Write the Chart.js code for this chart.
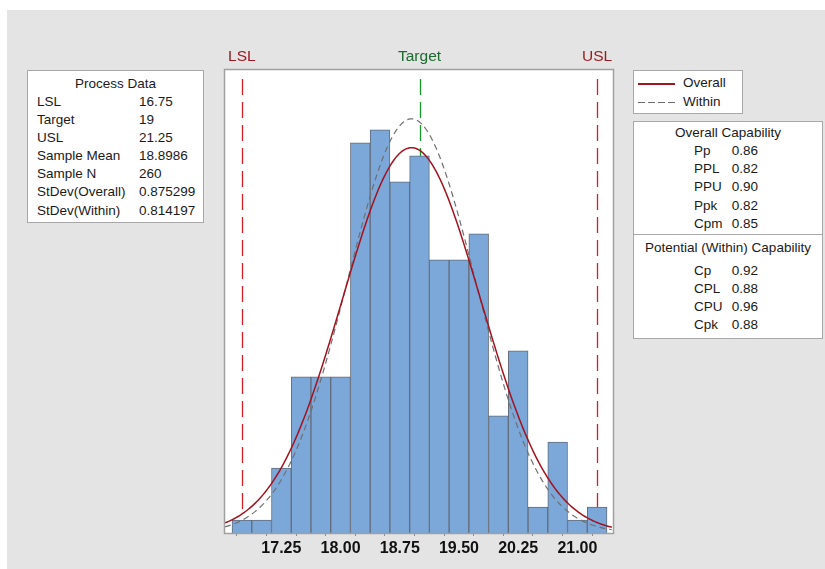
<!DOCTYPE html>
<html>
<head>
<meta charset="utf-8">
<script src="https://cdn.jsdelivr.net/npm/chart.js@4/dist/chart.umd.min.js"></script>
<style>
  body { margin: 0; width: 825px; height: 569px; overflow: hidden; position: relative; background: #fff;
         font-family: "Liberation Sans", Arial, sans-serif; color: #1a1a1a; }
  #fondo { position: absolute; left: 7px; top: 10px; right: 0; bottom: 0; background: #e4e4e4; }
  #grafico { position: absolute; left: 0; top: 0; }
  .painel { position: absolute; background: #fff; border: 1px solid #a8a8a8; box-sizing: border-box; font-size: 13.5px; }
  .linha { position: absolute; left: 0; right: 0; height: 18px; line-height: 18px; white-space: nowrap; }
  .linha span { position: absolute; }
  .titulo { text-align: center; }
  #processData { left: 27px; top: 70px; width: 177px; height: 153px; }
  #legenda { left: 633px; top: 70px; width: 110px; height: 44px; }
  #capacidade { left: 633px; top: 121px; width: 190px; height: 218px; }
  .divisor { position: absolute; left: 0; right: 0; height: 0; border-top: 1px solid #a8a8a8; }
  .amostra { position: absolute; left: 4px; width: 37px; height: 1.5px; }
</style>
</head>
<body>
<div id="fondo"></div>
<canvas id="grafico" width="825" height="569"></canvas>
<div id="processData" class="painel"></div>
<div id="legenda" class="painel"></div>
<div id="capacidade" class="painel"></div>

<script>
// limites de especificação e dados do processo
const lsl = 16.75;
const target = 19;
const usl = 21.25;
const sampleMean = 18.8986;
const sampleN = 260;
const stdevOverall = 0.875299;
const stdevWithin = 0.814197;

// histograma: centro de cada classe e contagem
const binWidth = 0.25;
const binCenters = [16.75, 17.00, 17.25, 17.50, 17.75, 18.00, 18.25, 18.50, 18.75, 19.00,
                    19.25, 19.50, 19.75, 20.00, 20.25, 20.50, 20.75, 21.00, 21.25];
const binCounts = [1, 1, 5, 12, 12, 12, 30, 31, 27, 29, 21, 21, 23, 9, 14, 2, 7, 1, 2];

// eixo x
const xMin = 16.536;
const xMax = 21.451;
const yMax = 35.6;
const tickValues = [16.875, 17.25, 17.625, 18.00, 18.375, 18.75, 19.125, 19.50,
                    19.875, 20.25, 20.625, 21.00, 21.375];
const tickLabels = ['17.25', '18.00', '18.75', '19.50', '20.25', '21.00'];

// índices de capacidade
const overallLabels = ['Pp', 'PPL', 'PPU', 'Ppk', 'Cpm'];
const overallValues = [0.86, 0.82, 0.90, 0.82, 0.85];
const withinLabels = ['Cp', 'CPL', 'CPU', 'Cpk'];
const withinValues = [0.92, 0.88, 0.96, 0.88];

const processLabels = ['LSL', 'Target', 'USL', 'Sample Mean', 'Sample N', 'StDev(Overall)', 'StDev(Within)'];
const processValues = [lsl, target, usl, sampleMean, sampleN, stdevOverall, stdevWithin];

// curva normal ajustada, na escala das contagens
function curvaNormal(media, desvio) {
  const escala = sampleN * binWidth / (desvio * Math.sqrt(2 * Math.PI));
  const pontos = [];
  for (let x = xMin; x <= xMax + 1e-9; x += 0.02) {
    const z = (x - media) / desvio;
    pontos.push({ x: x, y: escala * Math.exp(-0.5 * z * z) });
  }
  return pontos;
}

function linhaTexto(pai, top, partes) {
  const div = document.createElement('div');
  div.className = 'linha';
  div.style.top = top + 'px';
  partes.forEach(([texto, left]) => {
    const s = document.createElement('span');
    s.textContent = texto;
    s.style.left = left + 'px';
    div.appendChild(s);
  });
  pai.appendChild(div);
}

function titulo(pai, top, texto) {
  const div = document.createElement('div');
  div.className = 'linha titulo';
  div.style.top = top + 'px';
  div.textContent = texto;
  pai.appendChild(div);
}

// painel Process Data
const pd = document.getElementById('processData');
titulo(pd, 4, 'Process Data');
processLabels.forEach((rotulo, i) => {
  linhaTexto(pd, 22.2 + i * 18.05, [[rotulo, 9], [String(processValues[i]), 111]]);
});

// legenda
const leg = document.getElementById('legenda');
[
  ['Overall', '#a3131f', 12.3],
  ['Within', 'repeating-linear-gradient(90deg, #6e6e6e 0 7px, transparent 7px 10px)', 30.7]
].forEach(([nome, fundo, y]) => {
  const a = document.createElement('div');
  a.className = 'amostra';
  a.style.top = y + 'px';
  a.style.background = fundo;
  leg.appendChild(a);
  linhaTexto(leg, y - 9, [[nome, 49]]);
});

// painel de capacidade
const cap = document.getElementById('capacidade');
titulo(cap, 1.7, 'Overall Capability');
overallLabels.forEach((rotulo, i) => {
  linhaTexto(cap, 19.7 + i * 18.3, [[rotulo, 60], [overallValues[i].toFixed(2), 97.7]]);
});
const div = document.createElement('div');
div.className = 'divisor';
div.style.top = '112px';
cap.appendChild(div);
titulo(cap, 116.7, 'Potential (Within) Capability');
withinLabels.forEach((rotulo, i) => {
  linhaTexto(cap, 139.7 + i * 18.1, [[rotulo, 60], [withinValues[i].toFixed(2), 97.7]]);
});

// linhas LSL / Target / USL e moldura da área do gráfico
const especificacao = [
  { valor: lsl, nome: 'LSL', linha: '#d41f26', texto: '#9c1b22' },
  { valor: target, nome: 'Target', linha: '#16992b', texto: '#1c6a2e' },
  { valor: usl, nome: 'USL', linha: '#d41f26', texto: '#9c1b22' }
];

const pluginEspec = {
  id: 'especificacao',
  beforeDraw(chart) {
    const { ctx, chartArea: a } = chart;
    ctx.save();
    ctx.fillStyle = '#ffffff';
    ctx.fillRect(a.left, a.top, a.right - a.left, a.bottom - a.top);
    ctx.restore();
  },
  beforeDatasetsDraw(chart) {
    const { ctx, chartArea: a, scales } = chart;
    ctx.save();
    especificacao.forEach(e => {
      const x = Math.round(scales.x.getPixelForValue(e.valor)) + 0.5;
      ctx.strokeStyle = e.linha;
      ctx.lineWidth = 1.3;
      ctx.setLineDash([16, 7]);
      ctx.beginPath();
      ctx.moveTo(x, a.top + 9);
      ctx.lineTo(x, a.bottom - 17);
      ctx.stroke();
    });
    ctx.restore();
  },
  afterDraw(chart) {
    const { ctx, chartArea: a, scales } = chart;
    ctx.save();
    ctx.strokeStyle = '#a0a0a0';
    ctx.lineWidth = 1.5;
    ctx.strokeRect(a.left - 0.5, a.top - 0.5, a.right - a.left + 1, a.bottom - a.top + 1);
    ctx.font = '15.5px "Liberation Sans", Arial, sans-serif';
    ctx.textAlign = 'center';
    ctx.textBaseline = 'middle';
    especificacao.forEach(e => {
      ctx.fillStyle = e.texto;
      ctx.fillText(e.nome, scales.x.getPixelForValue(e.valor), a.top - 13);
    });
    ctx.restore();
  }
};

new Chart(document.getElementById('grafico').getContext('2d'), {
  type: 'bar',
  data: {
    datasets: [
      {
        type: 'line',
        label: 'Overall',
        data: curvaNormal(sampleMean, stdevOverall),
        borderColor: '#a3131f',
        borderWidth: 1.5,
        pointRadius: 0,
        tension: 0,
        order: 0
      },
      {
        type: 'line',
        label: 'Within',
        data: curvaNormal(sampleMean, stdevWithin),
        borderColor: '#707070',
        borderWidth: 1.2,
        borderDash: [6, 4],
        pointRadius: 0,
        tension: 0,
        order: 1
      },
      {
        type: 'bar',
        label: 'Contagem',
        data: binCenters.map((c, i) => ({ x: c, y: binCounts[i] })),
        backgroundColor: '#7ba7d9',
        borderColor: '#636d7b',
        borderWidth: 1,
        barPercentage: 1,
        categoryPercentage: 1,
        order: 2
      }
    ]
  },
  options: {
    responsive: false,
    animation: false,
    layout: { padding: { left: 225, right: 212, top: 70, bottom: 0 } },
    plugins: {
      legend: { display: false },
      tooltip: { enabled: false }
    },
    scales: {
      x: {
        type: 'linear',
        min: xMin,
        max: xMax,
        offset: false,
        afterBuildTicks: scale => {
          scale.ticks = tickValues.map(v => ({ value: v }));
        },
        afterFit: scale => {
          scale.height = 36;
        },
        ticks: {
          autoSkip: false,
          maxRotation: 0,
          padding: 3,
          color: '#111111',
          font: { family: '"Liberation Sans", Arial, sans-serif', size: 16, weight: 'bold' },
          callback: v => {
            const t = Number(v).toFixed(2);
            return tickLabels.includes(t) ? t : '';
          }
        },
        grid: { drawOnChartArea: false, tickLength: 3, color: '#8a8a8a' },
        border: { display: false }
      },
      y: {
        display: false,
        min: 0,
        max: yMax
      }
    }
  },
  plugins: [pluginEspec]
});
</script>
</body>
</html>
